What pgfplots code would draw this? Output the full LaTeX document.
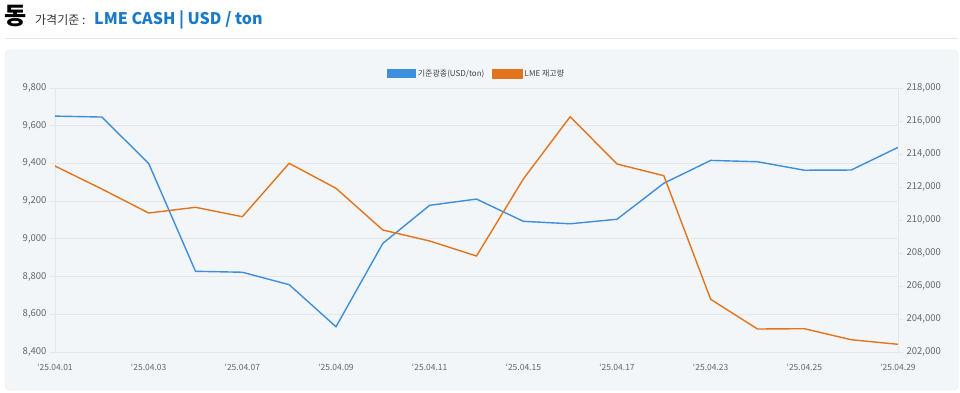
\documentclass[border=0pt]{standalone}
\usepackage{fontspec}
\setmainfont{Noto Sans CJK KR}
\usepackage{pgfplots}
\pgfplotsset{compat=1.18}
\definecolor{cblue}{HTML}{3D8FDB}
\definecolor{corange}{HTML}{E3741C}
\definecolor{gridc}{HTML}{E3E6EA}
\definecolor{panel}{HTML}{F3F6F9}
\definecolor{tickc}{HTML}{666666}
\definecolor{titleblue}{HTML}{1B7AC8}
\pgfplotsset{
  common/.style={
    at={(55pt,40pt)}, anchor=south west,
    width=843pt, height=264pt, scale only axis,
    xmin=0, xmax=18,
    axis line style={gridc, line width=0.8pt},
    tick style={gridc, line width=0.8pt},
    tick align=outside, major tick length=5pt,
    xticklabel style={text=tickc, font=\fontsize{8.5}{10}\selectfont},
    yticklabel style={text=tickc, font=\fontsize{9.5}{11}\selectfont},
    /pgf/number format/assume math mode=true,
    /pgf/number format/fixed,
    /pgf/number format/precision=0,
    /pgf/number format/1000 sep={,},
  }
}
\begin{document}
\begin{tikzpicture}[x=1pt,y=1pt]
\useasboundingbox (0,0) rectangle (960,392);
\fill[white] (0,0) rectangle (960,392);
\node[anchor=base west, inner sep=0] at (4,367) {\fontsize{24}{26}\selectfont\bfseries 동};
\node[anchor=base west, inner sep=0, text=black!80] at (35,367) {\fontsize{12}{14}\selectfont 가격기준 :};
\node[anchor=base west, inner sep=0, text=titleblue] at (94,367) {\fontsize{16}{18}\selectfont\bfseries LME CASH | USD / ton};
\draw[gridc, line width=1pt] (5,354) -- (958,354);
\draw[fill=panel, draw=gridc, rounded corners=5pt] (5,2) rectangle (958,342);

\begin{axis}[common,
  ymin=8400, ymax=9800,
  axis y line*=left, axis x line*=bottom,
  ytick={8400,8600,...,9800},
  ymajorgrids, grid style={gridc, line width=0.8pt},
  xtick={0,2,...,18},
  xticklabels={‘25.04.01,‘25.04.03,‘25.04.07,‘25.04.09,‘25.04.11,‘25.04.15,‘25.04.17,‘25.04.23,‘25.04.25,‘25.04.29},
  x tick style={draw=none},
  xticklabel style={yshift=-3pt},
]
\addplot[cblue, line width=1.4pt, mark=none] coordinates {
(0,9651) (1,9646) (2,9400) (3,8828) (4,8823) (5,8757) (6,8534) (7,8976) (8,9178) (9,9211)
(10,9093) (11,9080) (12,9104) (13,9295) (14,9416) (15,9409) (16,9364) (17,9365) (18,9485)};
\end{axis}

\begin{axis}[common,
  ymin=202000, ymax=218000,
  axis y line*=right, axis x line=none,
  ytick={202000,204000,...,218000},
  scaled y ticks=false,
  legend columns=2,
  legend style={at={(0.5,1)}, anchor=south, yshift=6pt, draw=none, fill=none,
    font=\fontsize{8}{9}\selectfont, text=black!75,
    /tikz/every even column/.append style={column sep=6pt}},
  legend image code/.code={\fill[#1] (0pt,-4.5pt) rectangle (29pt,4.5pt);},
]
\addlegendimage{fill=cblue, draw=none}
\addlegendentry{기준광종(USD/ton)}
\addplot[corange, line width=1.4pt, mark=none] coordinates {
(0,213273) (1,211879) (2,210424) (3,210770) (4,210200) (5,213436) (6,211921) (7,209394) (8,208727) (9,207818)
(10,212485) (11,216261) (12,213394) (13,212685) (14,205194) (15,203394) (16,203412) (17,202745) (18,202467)};
\addlegendentry{LME 재고량}
\end{axis}
\end{tikzpicture}
\end{document}
